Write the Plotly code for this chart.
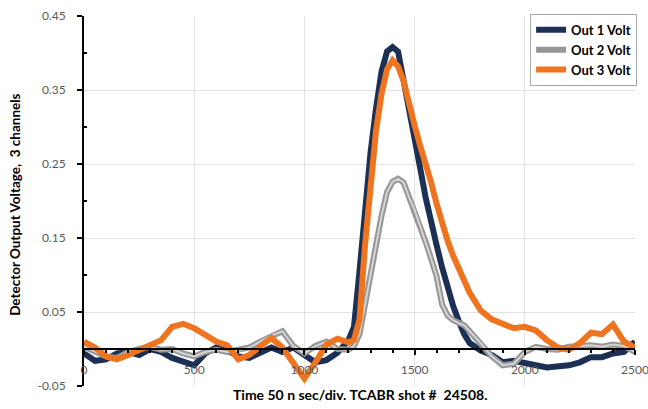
import plotly.graph_objects as go

# Time axis (ns); finer sampling through the pulse
time_ns = (list(range(0, 1201, 50)) + list(range(1225, 1801, 25)) + list(range(1850, 2501, 50)))

out1_volt = [
    -0.006, -0.016, -0.014, -0.006, -0.004, -0.008, 0.000, -0.004, -0.012, -0.018,
    -0.022, -0.006, 0.002, -0.002, -0.010, -0.012, -0.006, 0.002, -0.004, 0.002,
    -0.008, -0.018, -0.015, -0.005, 0.012,
    0.030, 0.105, 0.195, 0.265, 0.325, 0.375, 0.402, 0.408, 0.402, 0.365,
    0.320, 0.285, 0.245, 0.205, 0.170, 0.140, 0.110, 0.080, 0.058, 0.038,
    0.020, 0.008, 0.003, -0.002,
    -0.008, -0.018, -0.016, -0.018, -0.022, -0.025, -0.024, -0.022, -0.018, -0.011,
    -0.011, -0.006, -0.004, 0.010,
]

out2_volt = [
    0.003, -0.004, -0.010, -0.012, -0.004, 0.000, 0.003, -0.001, 0.000, -0.006,
    -0.010, -0.004, -0.001, -0.004, -0.002, 0.002, 0.010, 0.018, 0.024, 0.004,
    -0.006, 0.004, 0.010, 0.000, -0.001,
    0.004, 0.020, 0.060, 0.105, 0.140, 0.180, 0.212, 0.226, 0.230, 0.225,
    0.205, 0.188, 0.166, 0.145, 0.122, 0.098, 0.060, 0.045, 0.039, 0.035,
    0.032, 0.024, 0.016, 0.008,
    -0.010, -0.022, -0.020, -0.004, 0.003, 0.000, -0.001, 0.003, 0.004, 0.005,
    0.003, 0.006, 0.004, -0.004,
]

out3_volt = [
    0.010, 0.002, -0.010, -0.014, -0.008, -0.001, 0.004, 0.012, 0.030, 0.034,
    0.028, 0.018, 0.010, 0.005, -0.014, -0.008, 0.003, 0.015, 0.002, -0.020,
    -0.040, -0.018, 0.006, 0.014, 0.009,
    0.012, 0.040, 0.140, 0.220, 0.295, 0.345, 0.378, 0.390, 0.382, 0.362,
    0.330, 0.302, 0.275, 0.252, 0.225, 0.196, 0.170, 0.146, 0.126, 0.108,
    0.090, 0.076, 0.064, 0.052,
    0.040, 0.034, 0.028, 0.030, 0.025, 0.012, 0.002, -0.001, 0.008, 0.022,
    0.020, 0.033, 0.010, 0.002,
]

series_names = ["Out 1 Volt", "Out 2 Volt", "Out 3 Volt"]
x_tick_vals = [0, 500, 1000, 1500, 2000, 2500]
y_tick_vals = [-0.05, 0.05, 0.15, 0.25, 0.35, 0.45]
y_tick_text = ["-0.05", "0.05", "0.15", "0.25", "0.35", "0.45"]

x_title = "Time 50 n sec/div. TCABR shot #  24508."
y_title = "Detector Output Voltage,  3 channels"

FONT = "Lato, 'Open Sans', sans-serif"

fig = go.Figure()
fig.add_trace(go.Scatter(x=time_ns, y=out1_volt, mode="lines", name=series_names[0],
                         line=dict(color="#1c2f55", width=6)))
fig.add_trace(go.Scatter(x=time_ns, y=out2_volt, mode="lines", name=series_names[1],
                         line=dict(color="#969696", width=6)))
fig.add_trace(go.Scatter(x=time_ns, y=out2_volt, mode="lines", showlegend=False,
                         hoverinfo="skip", line=dict(color="#d4d4d4", width=2)))
fig.add_trace(go.Scatter(x=time_ns, y=out3_volt, mode="lines", name=series_names[2],
                         line=dict(color="#ee7420", width=6)))

fig.update_layout(
    width=648, height=409,
    margin=dict(l=84, r=12, t=16, b=23),
    paper_bgcolor="white", plot_bgcolor="white",
    font=dict(family=FONT, size=12, color="#595959"),
    showlegend=True,
    legend=dict(
        x=1.002, y=1.006, xanchor="right", yanchor="top",
        bgcolor="white", bordercolor="#a6a6a6", borderwidth=1,
        font=dict(family=FONT, size=13, color="#000000", weight="bold"),
        tracegroupgap=0,
    ),
    xaxis=dict(
        range=[0, 2500], tickvals=x_tick_vals,
        anchor="free", position=0.1, automargin=False,
        showgrid=True, gridcolor="#e3e3e3", gridwidth=1,
        showline=True, linecolor="black", linewidth=2,
        ticks="outside", ticklen=5, tickwidth=2, tickcolor="black",
        minor=dict(dtick=100, ticks="outside", ticklen=3, tickcolor="black", showgrid=False),
        ticklabelstandoff=5, ticklabeloverflow="allow",
        zeroline=False,
    ),
    yaxis=dict(
        range=[-0.05, 0.45], domain=[0, 1], automargin=False,
        tickvals=y_tick_vals, ticktext=y_tick_text,
        showgrid=True, gridcolor="#e3e3e3", gridwidth=1,
        showline=True, linecolor="black", linewidth=2,
        ticks="outside", ticklen=5, tickwidth=2, tickcolor="black",
        minor=dict(tickvals=[0.0, 0.1, 0.2, 0.3, 0.4], ticks="inside", ticklen=3,
                   tickcolor="black", showgrid=False),
        ticklabelstandoff=9,
        zeroline=False,
    ),
    annotations=[
        dict(text=x_title, xref="paper", yref="paper", x=0.5, y=-0.024,
             xanchor="center", yanchor="middle", showarrow=False,
             font=dict(family=FONT, size=14, color="black", weight="bold")),
        dict(text=y_title, xref="paper", yref="paper", x=-0.125, y=0.49,
             xanchor="center", yanchor="middle", textangle=-90, showarrow=False,
             font=dict(family=FONT, size=13.5, color="black", weight="bold")),
    ],
)

fig.write_html("out.html")
